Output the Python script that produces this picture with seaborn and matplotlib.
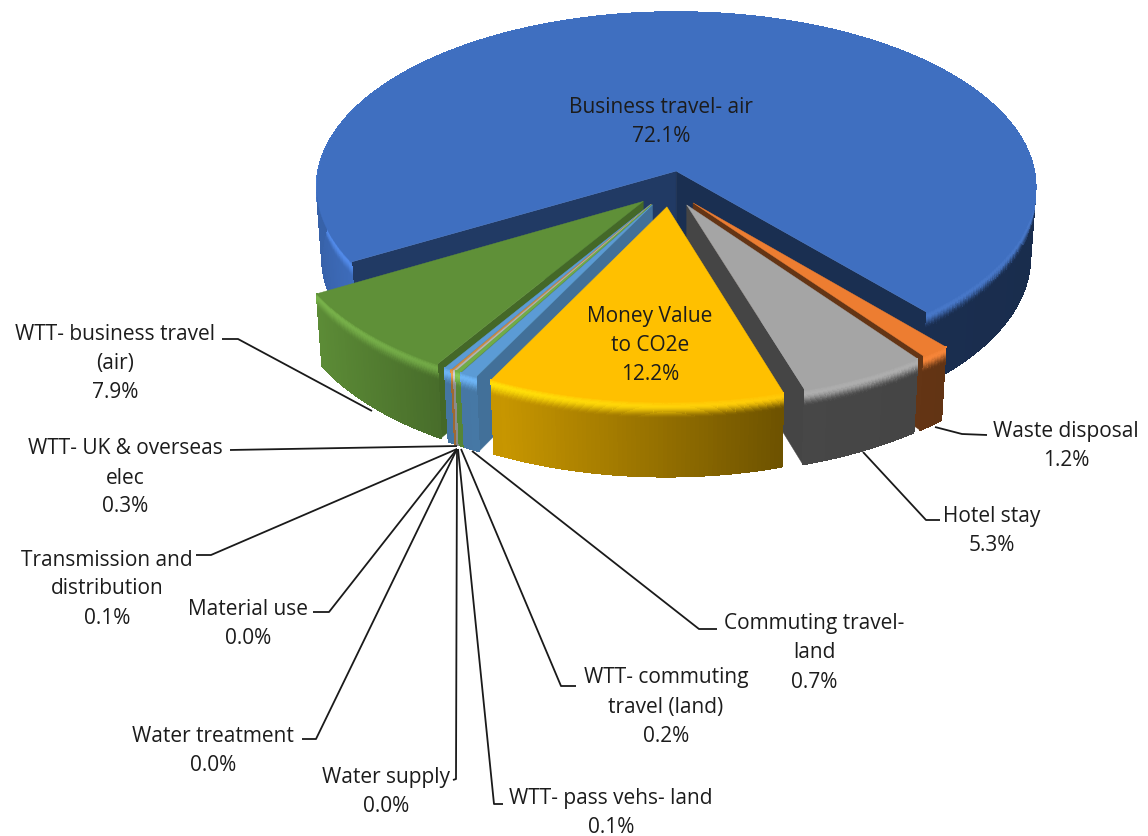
import numpy as np
import matplotlib
matplotlib.use("Agg")
import matplotlib.pyplot as plt
from matplotlib.collections import PolyCollection
from matplotlib.colors import to_rgb
import seaborn as sns

# ---------- data ----------
categories = ["Business travel- air", "Waste disposal", "Hotel stay", "Money Value\nto CO2e",
              "Commuting travel-\nland", "WTT- commuting\ntravel (land)", "WTT- pass vehs- land",
              "Water supply", "Water treatment", "Material use",
              "Transmission and\ndistribution", "WTT- UK & overseas\nelec",
              "WTT- business travel\n(air)"]
values = [72.1, 1.2, 5.3, 12.2, 0.7, 0.2, 0.1, 0.0, 0.0, 0.0, 0.1, 0.3, 7.9]
colors = ["#3F6FC0", "#ED7D31", "#A5A5A5", "#FFC000", "#5B9BD5", "#70AD47", "#B5B5B5",
          "#264478", "#9E480E", "#636363", "#D08A40", "#5B9BD5", "#5F9038"]

# ---------- layout / style ----------
label_pos = [(661, 122), (1066, 446), (992, 531), (650, 345), (814, 653), (666, 707), (611, 813),
             (386, 792), (213, 751), (248, 624), (107, 589), (125, 478), (115, 363)]
leaders = [None,
           [(935, 428), (962, 435), (987, 436)],
           [(863, 453), (926, 521), (940, 521)],
           None,
           [(472, 452), (699, 630), (717, 630)],
           [(461, 450), (561, 687), (576, 687)],
           [(458, 450), (494, 805), (503, 805)],
           [(457, 450), (456, 780), (453, 781)],
           [(457, 450), (316, 740), (302, 740)],
           [(457, 450), (329, 613), (313, 613)],
           [(457, 450), (211, 556), (196, 556)],
           [(457, 447), (230, 451)],
           [(372, 412), (238, 340), (222, 340)]]
draw_order = [0, 1, 2, 12, 11, 10, 9, 8, 7, 6, 5, 4, 3]
START = 240.0
EXPLODE = 0.102
RADIUS = [1.0] + [0.985] * 12
SHIFT = (-0.014, 0.101)
CX, CY, A, B, K, M, E = 675, 172, 358, 173.5, 0.0914, 0.015, 71

sns.set_theme(style="white")
plt.rcParams["font.family"] = ["Open Sans", "DejaVu Sans"]
fig = plt.figure(figsize=(11.48, 8.37), dpi=100)
ax = fig.add_axes([0, 0, 1, 1])
ax.set_xlim(0, 1148)
ax.set_ylim(837, 0)
ax.axis("off")


def project(u, v, z=0.0):
    q = 1 - K * v + M * z
    return CX + A * u / q, CY + (B * v + E * z) / q


def wall_factor(theta):
    s = np.sin(np.radians(theta))
    return np.interp(s, [-1, -0.87, -0.53, -0.42, 0.29, 1], [0.88, 0.97, 0.76, 0.78, 0.43, 0.40])


def smooth(t):
    t = np.clip(t, 0, 1)
    return t * t * (3 - 2 * t)


zs = np.concatenate([np.arange(0, 0.3, 0.015), [0.3, 0.6, 1.0]])
total = sum(values)
angles = START + np.concatenate([[0], np.cumsum(values)]) / total * 360
z0 = 1

for i in draw_order:
    t1, t2 = angles[i], angles[i + 1]
    if t2 - t1 <= 0:
        continue
    mid = np.radians((t1 + t2) / 2)
    ou = SHIFT[0] + EXPLODE * np.sin(mid)
    ov = SHIFT[1] - EXPLODE * np.cos(mid)
    r = RADIUS[i]
    base = np.array(to_rgb(colors[i]))
    th = np.linspace(t1, t2, max(3, int((t2 - t1) * 1.5) + 2))
    us = ou + r * np.sin(np.radians(th))
    vs = ov - r * np.cos(np.radians(th))

    # radial faces that look toward the viewer
    for edge, sign in ((th[0], -1), (th[-1], 1)):
        normal = np.radians(edge + sign * 90)
        if -np.cos(normal) <= 0:
            continue
        eu = ou + r * np.sin(np.radians(edge))
        ev = ov - r * np.cos(np.radians(edge))
        fac = 0.42 if np.sin(normal) < 0 else (0.52 if i == 0 else 0.72)
        pts = [project(ou, ov, 0), project(eu, ev, 0), project(eu, ev, 1), project(ou, ov, 1)]
        ax.fill(*zip(*pts), color=base * fac, lw=0.3, zorder=z0)
    z0 += 1

    # outer wall, with a soft highlight along the rim
    polys, cols = [], []
    for j in range(len(th) - 1):
        mt = (th[j] + th[j + 1]) / 2
        wf = wall_factor(mt)
        wall = base * wf
        hi = np.clip(base * (1.0 + 0.16 * np.clip(wf - 0.4, 0, 1) / 0.5) + 0.03, 0, 1)
        for a in range(len(zs) - 1):
            zm = (zs[a] + zs[a + 1]) / 2
            if zm < 0.06:
                c = base + (hi - base) * zm / 0.06
            else:
                c = hi + (wall - hi) * smooth((zm - 0.06) / 0.17)
            polys.append([project(us[j], vs[j], zs[a]), project(us[j + 1], vs[j + 1], zs[a]),
                          project(us[j + 1], vs[j + 1], zs[a + 1]), project(us[j], vs[j], zs[a + 1])])
            cols.append(c)
    ax.add_collection(PolyCollection(polys, facecolors=cols, edgecolors=cols, linewidths=0.6,
                                     antialiaseds=False, zorder=z0))
    z0 += 1

    # top face
    top = [project(ou, ov)] + [project(a, b) for a, b in zip(us, vs)]
    ax.fill(*zip(*top), color=base, lw=0.3, zorder=z0)
    z0 += 1

for i, name in enumerate(categories):
    ax.text(*label_pos[i], f"{name}\n{values[i]:.1f}%", ha="center", va="center", fontsize=15,
            color="#1c1c1c", linespacing=1.5, zorder=100)
    if leaders[i]:
        ax.plot(*zip(*leaders[i]), color="#1a1a1a", lw=1.3, zorder=99, solid_capstyle="butt")

fig.savefig("out.png", dpi=100, facecolor="white")
